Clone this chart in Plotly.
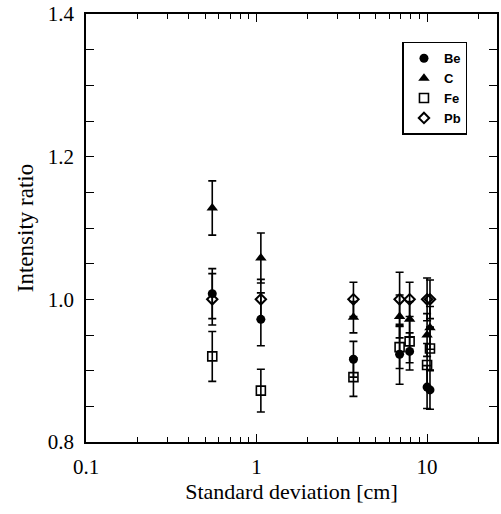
import plotly.graph_objects as go

# Standard deviation [cm] for each measurement group
sigma = [0.55, 1.06, 3.7, 6.9, 7.9, 10.0, 10.4]

be = [1.008, 0.972, 0.916, 0.923, 0.927, 0.877, 0.873]
be_err = [0.035, 0.037, 0.025, 0.042, 0.026, 0.030, 0.027]

c = [1.128, 1.058, 0.975, 0.976, 0.972, 0.950, 0.960]
c_err = [0.038, 0.035, 0.022, 0.030, 0.025, 0.030, 0.030]

fe = [0.920, 0.872, 0.891, 0.933, 0.941, 0.908, 0.931]
fe_err = [0.035, 0.030, 0.027, 0.030, 0.030, 0.030, 0.030]

pb = [1.000, 1.000, 1.000, 1.000, 1.000, 1.000, 1.000]
pb_err = [0.036, 0.028, 0.024, 0.038, 0.024, 0.030, 0.027]

x_major = [0.1, 1, 10]
x_major_text = ["0.1", "1", "10"]
x_minor = [0.2, 0.3, 0.4, 0.5, 0.6, 0.7, 0.8, 0.9,
           2, 3, 4, 5, 6, 7, 8, 9, 20]
y_major = [0.8, 1.0, 1.2, 1.4]
y_major_text = ["0.8", "1.0", "1.2", "1.4"]

fig = go.Figure()

series = [
    ("Be", be, be_err, dict(symbol="circle", size=9, color="black")),
    ("C", c, c_err, dict(symbol="triangle-up", size=10, color="black")),
    ("Fe", fe, fe_err, dict(symbol="square-open", size=9, color="black",
                            line=dict(width=1.6, color="black"))),
    ("Pb", pb, pb_err, dict(symbol="diamond-open", size=8, color="black",
                            line=dict(width=2, color="black"))),
]
for name, ys, errs, mk in series:
    fig.add_trace(go.Scatter(
        x=sigma, y=ys, name=name, mode="markers", marker=mk,
        error_y=dict(type="data", array=errs, visible=True,
                     color="black", thickness=1.6, width=4),
    ))

serif = "Liberation Serif, Times New Roman, serif"

fig.update_layout(
    width=501, height=514,
    margin=dict(l=86, r=2, t=14, b=72),
    paper_bgcolor="white", plot_bgcolor="white",
    font=dict(family=serif, size=22, color="black"),
    showlegend=True,
    legend=dict(
        x=0.77, y=0.935, xanchor="left", yanchor="top",
        bgcolor="white", bordercolor="black", borderwidth=1.5,
        font=dict(family="Liberation Sans, Arial, sans-serif", size=13,
                  color="black", weight="bold"),
        tracegroupgap=0, itemwidth=30,
    ),
    xaxis=dict(
        type="log", range=[-1, 1.41],
        showgrid=False, zeroline=False,
        showline=True, linecolor="black", linewidth=1.5, mirror="ticks",
        ticks="inside", ticklen=8, tickwidth=1.2, tickcolor="black",
        tickmode="array", tickvals=x_major, ticktext=x_major_text,
        ticklabelstandoff=5,
        minor=dict(ticks="inside", ticklen=5, tickwidth=1.2,
                   tickcolor="black", tickmode="array", tickvals=x_minor,
                   showgrid=False),
        title=dict(text="Standard deviation [cm]", standoff=5,
                   font=dict(family=serif, size=22)),
        tickfont=dict(family=serif, size=21),
    ),
    yaxis=dict(
        range=[0.8, 1.4],
        showgrid=False, zeroline=False,
        showline=True, linecolor="black", linewidth=1.5, mirror="ticks",
        ticks="inside", ticklen=8, tickwidth=1.2, tickcolor="black",
        tickmode="array", tickvals=y_major, ticktext=y_major_text,
        ticklabelstandoff=6,
        minor=dict(ticks="inside", ticklen=8, tickwidth=1.2,
                   tickcolor="black", dtick=0.05, showgrid=False),
        title=dict(text="Intensity ratio", standoff=8,
                   font=dict(family=serif, size=23)),
        tickfont=dict(family=serif, size=21),
    ),
)

fig.write_html("out.html")
